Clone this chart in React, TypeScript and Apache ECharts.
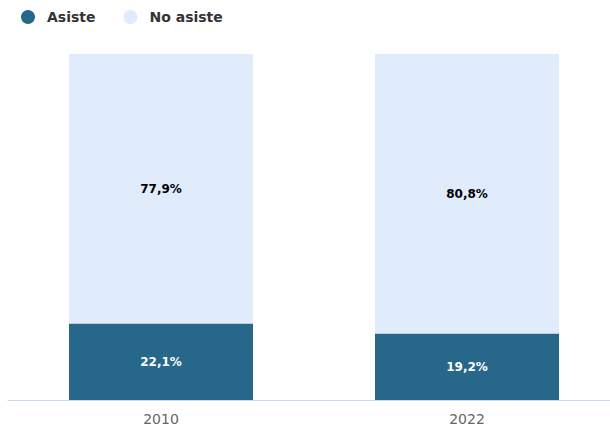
import React, { useEffect, useRef } from "react";
import * as echarts from "echarts";

const categories = ["2010", "2022"];
const asiste = [22.1, 19.2];
const noAsiste = [77.9, 80.8];
const seriesNames = ["Asiste", "No asiste"];

const fmt = (v: number) => v.toFixed(1).replace(".", ",") + "%";

export default function App() {
  const ref = useRef<HTMLDivElement>(null);
  useEffect(() => {
    if (!ref.current) return;
    const chart = echarts.init(ref.current, undefined, { renderer: "svg" });
    chart.setOption({
      animation: false,
      textStyle: { fontFamily: "DejaVu Sans" },
      legend: {
        left: 16,
        top: 5,
        icon: "circle",
        itemWidth: 14,
        itemHeight: 14,
        itemGap: 28,
        textStyle: {
          fontSize: 14,
          fontWeight: "bold",
          color: "#333",
          fontFamily: "DejaVu Sans",
          padding: [0, 0, 0, 7],
        },
        data: seriesNames,
      },
      grid: { left: 8, right: 0, top: 54, bottom: 30, containLabel: false },
      xAxis: {
        type: "category",
        data: categories,
        axisLine: { lineStyle: { color: "#c9d8f2", width: 1 } },
        axisTick: { show: false },
        axisLabel: { color: "#666", fontSize: 14, margin: 12, fontFamily: "DejaVu Sans" },
      },
      yAxis: {
        type: "value",
        min: 0,
        max: 100,
        show: false,
        splitLine: { show: false },
      },
      series: [
        {
          name: seriesNames[0],
          type: "bar",
          stack: "total",
          barWidth: 184,
          data: asiste,
          itemStyle: { color: "#27678a" },
          label: {
            show: true,
            position: "inside",
            formatter: (p: any) => fmt(p.value),
            color: "#fff",
            fontSize: 12,
            fontWeight: "bold",
            fontFamily: "DejaVu Sans",
          },
        },
        {
          name: seriesNames[1],
          type: "bar",
          stack: "total",
          barWidth: 184,
          data: noAsiste,
          itemStyle: { color: "#e0ebfc" },
          label: {
            show: true,
            position: "inside",
            formatter: (p: any) => fmt(p.value),
            color: "#000",
            fontSize: 12,
            fontWeight: "bold",
            fontFamily: "DejaVu Sans",
          },
        },
      ],
    });
    return () => chart.dispose();
  }, []);
  return (
    <div style={{ width: 610, height: 430, position: "absolute", left: 0, top: 0, overflow: "hidden" }}>
      <div ref={ref} style={{ width: 620, height: 430 }} />
    </div>
  );
}
